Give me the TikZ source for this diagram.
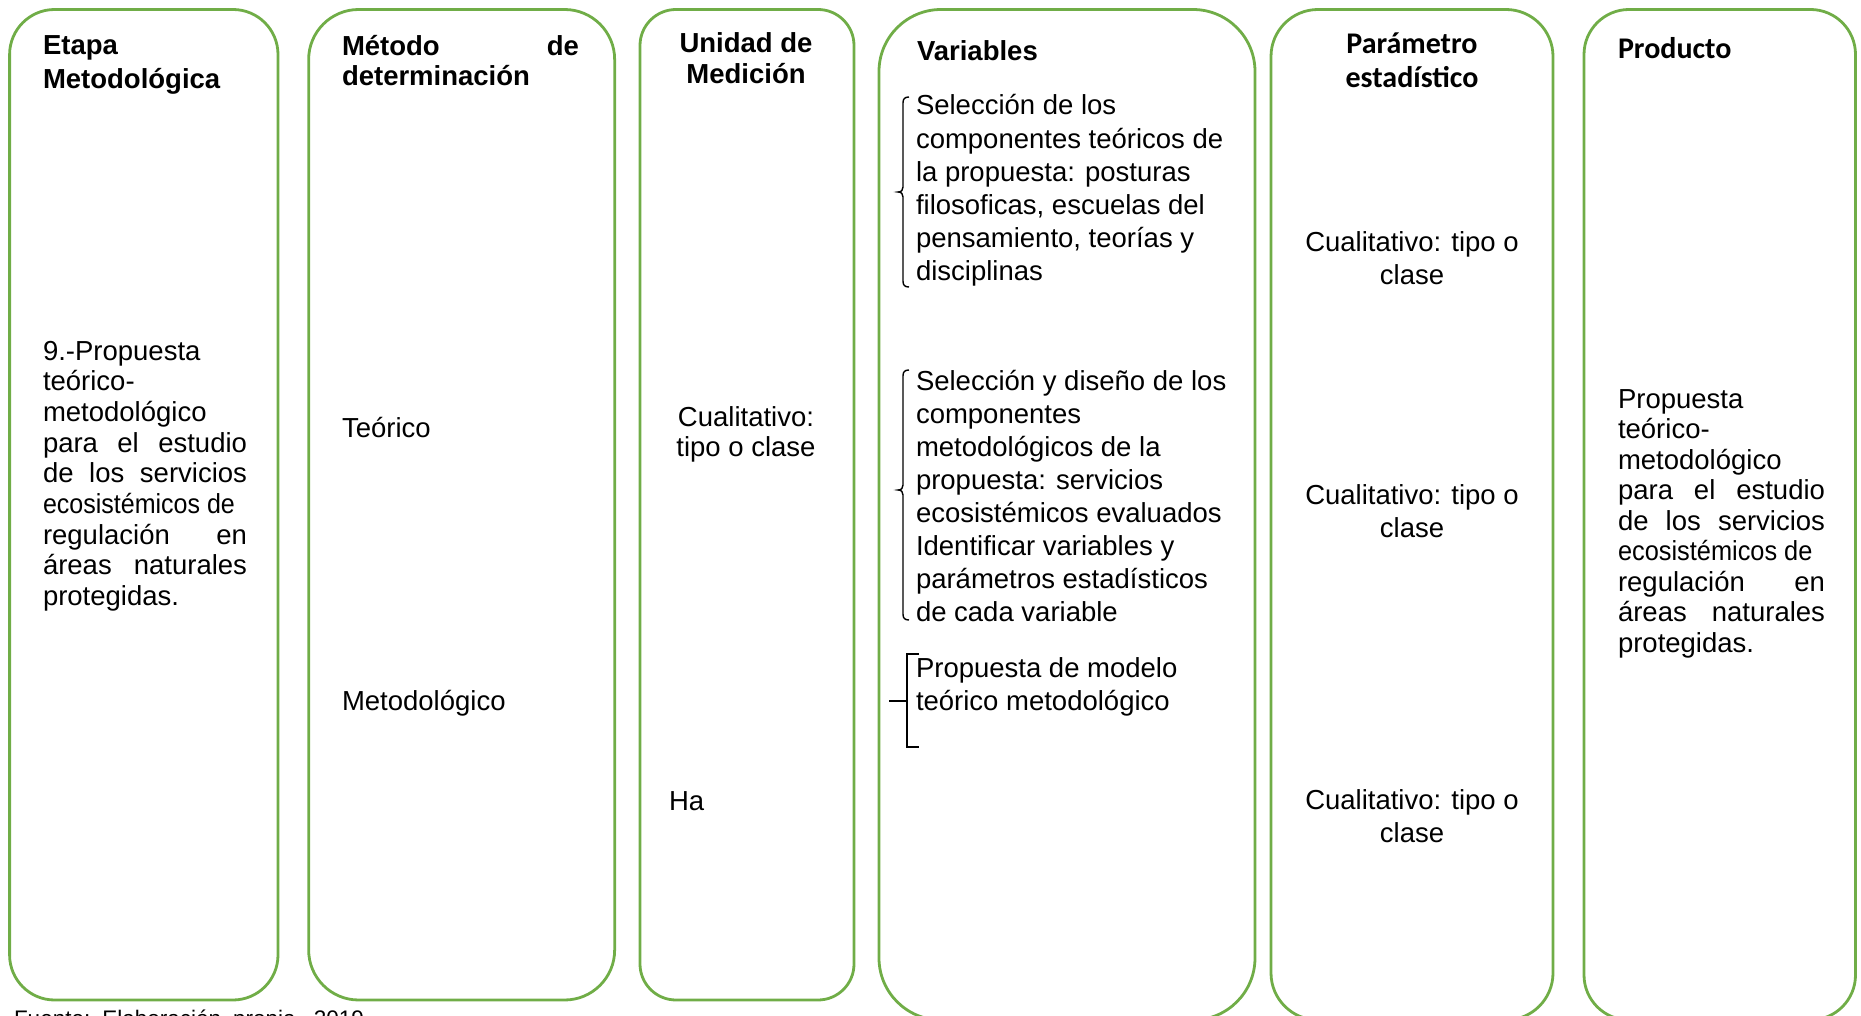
\documentclass[tikz,border=0pt]{standalone}
\usepackage{fontspec}
\usepackage{graphicx}
\setmainfont{Liberation Sans}
\newfontfamily\calibfont{Carlito}
\definecolor{boxgreen}{HTML}{70AD47}
\newcommand\tline[1]{\hbox{#1}}
\newcommand\jline[2]{\hbox to #1pt{#2}}
\newcommand\ctline[2]{\hbox to #1pt{\hfil #2\hfil}}
\tikzset{
  colbox/.style={draw=boxgreen, line width=2.8pt, inner sep=0pt, outer sep=0pt},
  txt/.style={inner sep=0pt, outer sep=0pt, anchor=base west},
  ctxt/.style={inner sep=0pt, outer sep=0pt, anchor=base},
  bodyf/.style={font=\fontsize{27.5}{#1}\selectfont},
  hdrf/.style={font=\bfseries\fontsize{27.5}{#1}\selectfont},
  calf/.style={font=\calibfont\bfseries\fontsize{30}{#1}\selectfont},
  brk/.style={draw=black, line width=1.4pt},
  brkb/.style={draw=black, line width=2.2pt},
}
\begin{document}
\begin{tikzpicture}[x=1pt,y=-1pt]
\useasboundingbox (0,0) rectangle (1861,1016);
% columns
\node[colbox, minimum width=268.4pt, minimum height=990.5pt, rounded corners=45pt] (c1) at (143.8,504.75) {};
\node[colbox, minimum width=306pt, minimum height=990.5pt, rounded corners=50pt] (c2) at (461.65,504.75) {};
\node[colbox, minimum width=214pt, minimum height=990.5pt, rounded corners=36pt] (c3) at (747,504.75) {};
\node[colbox, minimum width=376pt, minimum height=1010.5pt, rounded corners=62pt] (c4) at (1067,514.75) {};
\node[colbox, minimum width=282pt, minimum height=1010.5pt, rounded corners=47pt] (c5) at (1412,514.75) {};
\node[colbox, minimum width=271.5pt, minimum height=1010.5pt, rounded corners=45pt] (c6) at (1719.75,514.75) {};

% column 1
\node[txt, hdrf=33.5] (h1) at (43,55) {\vtop{\tline{Etapa}\tline{Metodológica}}};
\node[txt, bodyf=30.7] (t1) at (43,360) {\vtop{%
  \tline{9.-Propuesta}\tline{teórico-}\tline{metodológico}%
  \jline{204}{para\hfill el\hfill estudio}%
  \jline{204}{de\hfill los\hfill servicios}%
  \jline{204}{\scalebox{0.91}[1]{ecosistémicos de}\hss}%
  \jline{204}{regulación\hfill en}%
  \jline{204}{áreas\hfill naturales}%
  \tline{protegidas.}}};

% column 2
\node[txt, hdrf=30] (h2) at (342,56) {\vtop{\jline{237}{Método\hfill de}\tline{determinación}}};
\node[txt, bodyf=33] (t2a) at (342,437) {Teórico};
\node[txt, bodyf=33] (t2b) at (342,710) {Metodológico};

% column 3
\node[ctxt, hdrf=31] (h3) at (746,53) {\vtop{\ctline{200}{Unidad de}\ctline{200}{Medición}}};
\node[ctxt, bodyf=30] (t3a) at (746,426) {\vtop{\ctline{200}{Cualitativo:}\ctline{200}{tipo o clase}}};
\node[txt, bodyf=33] (t3b) at (669,810) {Ha};

% column 4
\node[txt, hdrf=33] (h4) at (917,61) {Variables};
\node[txt, bodyf=33.2] (v1) at (916,115) {\vtop{%
  \tline{Selección de los}\tline{componentes teóricos de}\tline{la propuesta: posturas}%
  \tline{filosoficas, escuelas del}\tline{pensamiento, teorías y}\tline{disciplinas}}};
\node[txt, bodyf=33.1] (v2) at (916,390) {\vtop{%
  \tline{Selección y diseño de los}\tline{componentes}\tline{metodológicos de la}%
  \tline{propuesta: servicios}\tline{ecosistémicos evaluados}\tline{Identificar variables y}%
  \tline{parámetros estadísticos}\tline{de cada variable}}};
\node[txt, bodyf=33] (v3) at (916,677) {\vtop{\tline{Propuesta de modelo}\tline{teórico metodológico}}};
% brackets
\draw[brk] (909,97) .. controls (904.5,97) and (903,99) .. (903,103) -- (903,187)
  .. controls (903,190) and (901.5,192) .. (898,192)
  .. controls (901.5,192) and (903,194) .. (903,197) -- (903,281)
  .. controls (903,285) and (904.5,287) .. (909,287);
\draw[brk] (909,370) .. controls (904.5,370) and (903,372) .. (903,376) -- (903,485)
  .. controls (903,488) and (901.5,490) .. (898,490)
  .. controls (901.5,490) and (903,492) .. (903,495) -- (903,614)
  .. controls (903,618) and (904.5,620) .. (909,620);
\draw[brkb] (919,654) -- (907,654) -- (907,747) -- (919,747);
\draw[brkb] (889,701) -- (907,701);

% column 5
\node[ctxt, calf=34] (h5) at (1412,54) {\vtop{\ctline{240}{Parámetro}\ctline{240}{estadístico}}};
\node[ctxt, bodyf=33] (p1) at (1412,252) {\vtop{\ctline{260}{Cualitativo: tipo o}\ctline{260}{clase}}};
\node[ctxt, bodyf=33] (p2) at (1412,504) {\vtop{\ctline{260}{Cualitativo: tipo o}\ctline{260}{clase}}};
\node[ctxt, bodyf=33] (p3) at (1412,809) {\vtop{\ctline{260}{Cualitativo: tipo o}\ctline{260}{clase}}};

% column 6
\node[txt, calf=33] (h6) at (1618,59) {Producto};
\node[txt, bodyf=30.56] (t6) at (1618,408) {\vtop{%
  \tline{Propuesta}\tline{teórico-}\tline{metodológico}%
  \jline{207}{para\hfill el\hfill estudio}%
  \jline{207}{de\hfill los\hfill servicios}%
  \jline{207}{\scalebox{0.922}[1]{ecosistémicos de}\hss}%
  \jline{207}{regulación\hfill en}%
  \jline{207}{áreas\hfill naturales}%
  \tline{protegidas.}}};

% source
\node[txt, font=\fontsize{22.5}{26}\selectfont] (src) at (14,1026) {\jline{350}{Fuente:\hfill Elaboración\hfill propia,\hfill 2019}};
\end{tikzpicture}
\end{document}
